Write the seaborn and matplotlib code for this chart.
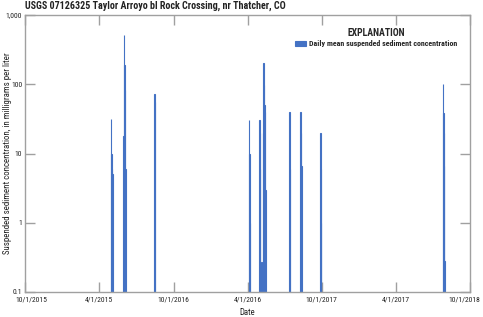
import matplotlib
matplotlib.use("Agg")
import matplotlib.pyplot as plt
from matplotlib import font_manager
import matplotlib.transforms as mtrans
import seaborn as sns
import numpy as np
import pandas as pd
from matplotlib.ticker import FixedLocator, FuncFormatter

title = "USGS 07126325 Taylor Arroyo bl Rock Crossing, nr Thatcher, CO"
series_label = "Daily mean suspended sediment concentration"

dates = [
    "2016-04-30", "2016-05-01", "2016-05-02", "2016-05-03",
    "2016-05-30", "2016-06-01", "2016-06-02", "2016-06-03", "2016-06-04",
    "2016-08-14", "2016-08-15",
    "2017-04-04", "2017-04-05", "2017-04-06",
    "2017-04-30", "2017-05-01", "2017-05-02", "2017-05-05",
    "2017-05-09", "2017-05-10", "2017-05-11", "2017-05-12", "2017-05-13", "2017-05-15",
    "2017-07-13", "2017-07-14",
    "2017-08-09", "2017-08-10", "2017-08-11",
    "2017-09-27", "2017-09-28", "2017-09-29",
    "2018-07-26", "2018-07-27", "2018-07-28", "2018-07-29", "2018-07-30",
]
values = [
    31, 10, 6, 5,
    18, 510, 190, 82, 6,
    72, 56,
    30, 10, 1,
    30, 20, 6, 0.27,
    20, 200, 98, 50, 40, 3,
    40, 6,
    40, 20, 6.6,
    20, 6, 1,
    100, 39, 20, 6.6, 0.28,
]
tick_dates = ["2015-10-01", "2016-04-01", "2016-10-01", "2017-04-01",
              "2017-10-01", "2018-04-01", "2018-10-01"]
tick_labels = ["10/1/2015", "4/1/2015", "10/1/2016", "4/1/2016",
               "10/1/2017", "4/1/2017", "10/1/2018"]
y_ticks = [0.1, 1, 10, 100, 1000]

start = pd.Timestamp(tick_dates[0])
day = np.array([(pd.Timestamp(d) - start).days for d in dates], dtype=float)
tick_pos = [(pd.Timestamp(d) - start).days for d in tick_dates]
df = pd.DataFrame({"day": day, "value": values})

sns.set_theme(style="white")
available = {f.name for f in font_manager.fontManager.ttflist}
stretches = {(f.name, f.stretch) for f in font_manager.fontManager.ttflist}
family = "DejaVu Sans"
stretch = "normal"
for cand in ["Liberation Sans Narrow", "Roboto Condensed", "Open Sans Condensed"]:
    if cand in available:
        family = cand
        break
else:
    if any(n == "DejaVu Sans" and s == "condensed" for n, s in stretches):
        stretch = "condensed"
plt.rcParams["font.family"] = [family, "DejaVu Sans"]
plt.rcParams["font.stretch"] = stretch

fig = plt.figure(figsize=(4.83, 3.17), dpi=100)
ax = fig.add_axes([25/483, 1 - 292/317, 445/483, 277/317])

bar_color = "#4472C4"
sns.histplot(data=df, x="day", weights="value", binwidth=1,
             binrange=(tick_pos[0], tick_pos[-1]), stat="count",
             color=bar_color, edgecolor=bar_color, linewidth=0.8, alpha=1,
             label=series_label, ax=ax)
ax.set_yscale("log")
ax.set_ylim(0.1, 1000)
ax.set_xlim(tick_pos[0], tick_pos[-1])

ax.xaxis.set_major_locator(FixedLocator(tick_pos))
ax.set_xticklabels(tick_labels)
ax.yaxis.set_major_locator(FixedLocator(y_ticks))
ax.yaxis.set_minor_locator(FixedLocator([]))
ax.yaxis.set_major_formatter(FuncFormatter(lambda v, p: f"{v:,.0f}" if v >= 1 else f"{v:g}"))

spine_c = "#a0a0a0"
for s in ax.spines.values():
    s.set_color(spine_c)
    s.set_linewidth(1.0)
ax.tick_params(axis="both", which="major", direction="in", length=7, width=1,
               color=spine_c, labelsize=5.5, pad=2, top=True, right=True,
               bottom=True, left=True, labelcolor="#222222")
ax.tick_params(axis="x", pad=3)

xlabels = ax.get_xticklabels()
xlabels[0].set_transform(xlabels[0].get_transform() +
                         mtrans.ScaledTranslation(6/100, 0, fig.dpi_scale_trans))
xlabels[-1].set_transform(xlabels[-1].get_transform() +
                          mtrans.ScaledTranslation(-6/100, 0, fig.dpi_scale_trans))

ax.set_xlabel("Date", fontsize=6.3, labelpad=4, color="#222222")
ax.set_ylabel("Suspended sediment concentration, in milligrams per liter",
              fontsize=6.4, labelpad=1, color="#222222")
ax.yaxis.set_label_coords(-13/445, 0.5)

fig.text(25/483, 1 - 6/317, title, fontsize=7.2, fontweight="bold",
         ha="left", va="center", color="#222222")

leg = ax.legend(loc="upper right", bbox_to_anchor=(0.985, 0.975), frameon=False,
                title="EXPLANATION", fontsize=5.8, title_fontsize=7,
                handlelength=1.4, handleheight=0.6, handletextpad=0.4,
                borderpad=0.2, labelspacing=0.3)
leg.get_title().set_fontweight("bold")
for t in leg.get_texts():
    t.set_fontweight("bold")

fig.savefig("out.png", dpi=100)
